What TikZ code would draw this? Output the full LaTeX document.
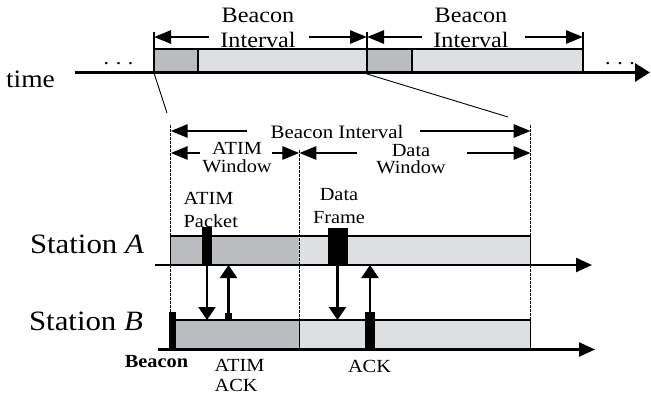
\documentclass[tikz,border=0pt]{standalone}
\usepackage{fontspec}
\setmainfont{Liberation Serif}
\usetikzlibrary{arrows.meta}
\definecolor{cdark}{HTML}{BBBCBF}
\definecolor{clight}{HTML}{DEDFE1}
\tikzset{
  every picture/.style={line width=1.2pt},
  note/.style={inner sep=0pt, align=center, anchor=base, xscale=1.1},
  slotline/.style={draw=black, line width=1.3pt},
  span/.style={-{Triangle[length=17pt, width=13pt]}, line width=2.8pt},
  axis/.style={-{Triangle[length=16pt, width=14pt]}, line width=2.4pt},
  msg/.style={-{Triangle[length=13pt, width=17pt]}, line width=2.4pt},
  guide/.style={dash pattern=on 2.5pt off 1.5pt, line width=1.2pt},
  txbar/.style={fill=black},
}
\newcommand{\fs}[2]{\fontsize{#1}{#2}\selectfont}
\newcommand{\gapdots}{.\hspace{6pt}.\hspace{6pt}.}

\begin{document}
\begin{tikzpicture}[x=1pt, y=-1pt]
  \useasboundingbox (0,0) rectangle (651,399);
  % time line: two beacon intervals
  \foreach \a/\m/\b in {154/198/367, 367/412/583} {
    \fill[cdark] (\a,49) rectangle (\m,72.5);
    \fill[clight] (\m,49) rectangle (\b,72.5);
    \draw[slotline] (\a,49) rectangle (\b,72.5);
    \draw[slotline] (\m,49) -- (\m,72.5);
    \draw (\a,32) -- (\a,49);  \draw (\b,32) -- (\b,49);
    \draw[span] (\a+55,37) -- (\a,37);
    \draw[span] (\b-58,37) -- (\b,37);
  }
  \draw[-{Triangle[length=15pt, width=18pt]}, line width=3pt] (75,72.5) -- (650,72.5);
  \node[note, font=\fs{22}{22}] (time) at (30.5,87) {\fs{25}{25}time};
  \node[note, font=\fs{20}{20}] (dotsL) at (118.5,64) {\gapdots};
  \node[note, font=\fs{20}{20}] (dotsR) at (620,64) {\gapdots};
  \node[note, font=\fs{22}{25}] (bi1) at (258,47) {Beacon\\Interval};
  \node[note, font=\fs{22}{25}] (bi2) at (471,47) {Beacon\\Interval};
  % zoom lines
  \draw[line width=0.9pt] (154,73) -- (167,113);
  \draw[line width=0.9pt] (367,74) -- (508,117);

  % one beacon interval in detail
  \node[note, font=\fs{19}{19}] (bi) at (337,138) {Beacon Interval};
  \draw[span] (247,131) -- (170.7,131);
  \draw[span] (420,131) -- (530.7,131);
  \node[note, font=\fs{18.5}{17.5}] (atimw) at (237,172) {ATIM\\Window};
  \draw[span] (200,153) -- (170.7,153);
  \draw[span] (271.7,153) -- (299.3,153);
  \node[note, font=\fs{18.5}{17}] (dataw) at (411,173) {Data\\Window};
  \draw[span] (356.7,153) -- (299.3,153);
  \draw[span] (466.7,153) -- (530.7,153);

  % station A
  \fill[cdark] (170.7,236) rectangle (299.3,265);
  \fill[clight] (299.3,236) rectangle (530.7,265);
  \draw[slotline] (170.7,236) rectangle (530.7,265);
  \fill[txbar] (202,227) rectangle (212,265);
  \fill[txbar] (328,228) rectangle (348,265);
  \draw[axis] (155,265) -- (592,265);
  \node[note, font=\fs{28}{28}] (staA) at (87,253) {Station \textit{A}};
  \node[note, anchor=base west, align=left, font=\fs{18.5}{23}] (atimp) at (183,227) {ATIM\\Packet};
  \node[note, font=\fs{18.5}{23}] (dataf) at (339,223) {Data\\Frame};

  % station B
  \fill[cdark] (175.7,320) rectangle (299.3,349.5);
  \fill[clight] (299.3,320) rectangle (530.7,349.5);
  \draw[slotline] (175.7,320) rectangle (530.7,349.5);
  \draw[slotline] (299.3,320) -- (299.3,349.5);
  \fill[txbar] (169,312) rectangle (176,349.5);
  \fill[txbar] (365,312) rectangle (375,349.5);
  \fill[txbar] (225,313) rectangle (232,320);
  \draw[axis] (158,349.5) -- (595,349.5);
  \node[note, font=\fs{28}{28}] (staB) at (86,330) {Station \textit{B}};
  \node[note, font=\bfseries\fs{18.5}{18.5}] (bcn) at (156.5,367) {Beacon};
  \node[note, anchor=base west, align=left, font=\fs{18.5}{20.5}] (atima) at (214,391.5) {ATIM\\ACK};
  \node[note, font=\fs{18.5}{18.5}] (ack) at (369.5,372.5) {ACK};

  % window borders
  \draw[guide] (170.7,125) -- (170.7,312);
  \draw[guide] (299.3,150) -- (299.3,320);
  \draw[guide] (530.7,125) -- (530.7,320);

  % frames between the stations
  \coordinate (atimTx) at (207,265);  \coordinate (atimRx) at (207,320);
  \coordinate (atimAckTx) at (228.5,313); \coordinate (atimAckRx) at (228.5,265);
  \coordinate (dataTx) at (337.5,265);  \coordinate (dataRx) at (337.5,320);
  \coordinate (ackTx) at (370,312);  \coordinate (ackRx) at (370,265);
  \draw[msg] (atimTx) -- (atimRx);
  \draw[msg] (atimAckTx) -- (atimAckRx);
  \draw[msg] (dataTx) -- (dataRx);
  \draw[msg] (ackTx) -- (ackRx);
\end{tikzpicture}
\end{document}
